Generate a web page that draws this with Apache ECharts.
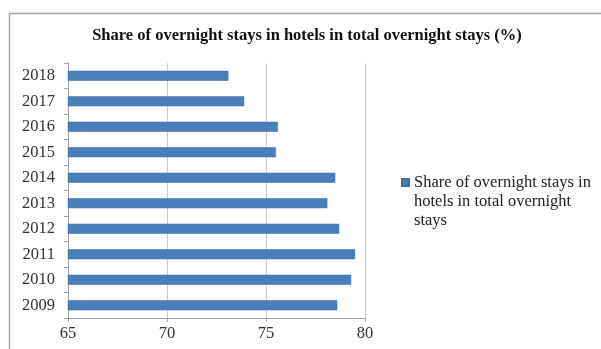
<!DOCTYPE html>
<html><head><meta charset="utf-8">
<script src="https://cdn.jsdelivr.net/npm/echarts@6/dist/echarts.min.js"></script>
<style>html,body{margin:0;padding:0;background:#fff}#c{width:601px;height:349px}</style>
</head><body><div id="c"></div>
<script>
const years = ['2018','2017','2016','2015','2014','2013','2012','2011','2010','2009'];
const shares = [73.1, 73.9, 75.6, 75.5, 78.5, 78.1, 78.7, 79.5, 79.3, 78.6];
const xTicks = [65, 70, 75, 80];
const seriesName = 'Share of overnight stays in hotels in total overnight stays';
const legendLines = ['Share of overnight stays in', 'hotels in total overnight', 'stays'];
const titleText = 'Share of overnight stays in hotels in total overnight stays (%)';

const chart = echarts.init(document.getElementById('c'), null, {renderer:'canvas'});
const serif = '"Liberation Serif","DejaVu Serif",serif';
chart.setOption({
  animation:false,
  backgroundColor:'#fff',
  graphic:[{type:'rect', shape:{x:9.5,y:13.5,width:700,height:400}, style:{fill:'none', stroke:'#a6a6a6', lineWidth:1.5}, silent:true}],
  title:{text:titleText, left:302, top:22, textAlign:'center',
    textStyle:{fontFamily:serif, fontWeight:'bold', fontSize:16.5, color:'#111'}},
  legend:{orient:'vertical', left:396, top:130, itemWidth:7, itemHeight:7, itemGap:0,
    icon:'rect',
    formatter:()=> '\n\n' + legendLines.join('\n'),
    textStyle:{fontFamily:serif, fontSize:16.5, color:'#222', lineHeight:19}},
  grid:{left:68, right:236, top:63, bottom:31, containLabel:false},
  xAxis:{type:'value', min:xTicks[0], max:xTicks[xTicks.length-1], interval:5,
    axisLine:{show:true, lineStyle:{color:'#a0a0a0'}},
    axisTick:{show:true, length:4, lineStyle:{color:'#a0a0a0'}},
    axisLabel:{fontFamily:serif, fontSize:16.5, color:'#333', margin:7},
    splitLine:{show:true, lineStyle:{color:'#cccccc'}}},
  yAxis:{type:'category', data:years, inverse:true,
    axisLine:{show:true, lineStyle:{color:'#a0a0a0'}},
    axisTick:{show:true, length:4, lineStyle:{color:'#a0a0a0'}},
    axisLabel:{fontFamily:serif, fontSize:16.5, color:'#333', margin:13}},
  series:[{type:'bar', name:seriesName, data:shares, barWidth:10,
    itemStyle:{color:'#4a7ebb', borderColor:'#3f6fa8', borderWidth:0.5}}]
});
</script></body></html>
